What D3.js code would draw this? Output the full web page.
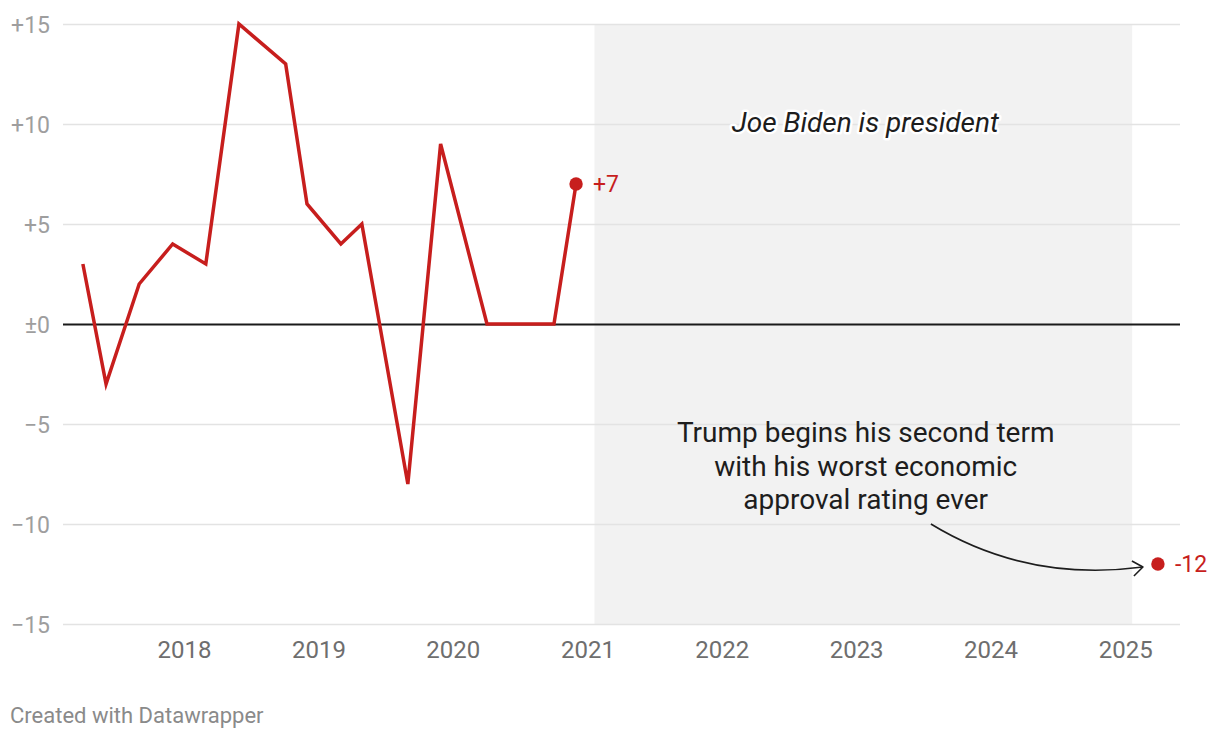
<!DOCTYPE html>
<html>
<head>
<meta charset="utf-8">
<script src="https://cdn.jsdelivr.net/npm/d3@7"></script>
<style>
  body { margin: 0; background: #fff; }
  text { font-family: Roboto, "Noto Sans", sans-serif; }
</style>
</head>
<body>
<svg id="chart"></svg>
<script>
// net economic approval, survey dates and values
const surveyDates = ["2017-04-01", "2017-06-03", "2017-09-01", "2017-12-01", "2018-03-01",
                     "2018-05-30", "2018-10-04", "2018-12-01", "2019-03-03", "2019-04-29",
                     "2019-09-01", "2019-11-29", "2020-04-03", "2020-10-02", "2020-12-01"]
const surveyValues = [3, -3, 2, 4, 3, 15, 13, 6, 4, 5, -8, 9, 0, 0, 7]

const latestDate = "2025-03-31"
const latestValue = -12

const bidenTerm = ["2021-01-20", "2025-01-20"]

const yTicks = [-15, -10, -5, 0, 5, 10, 15]
const yearTicks = [2018, 2019, 2020, 2021, 2022, 2023, 2024, 2025]

const width = 1220, height = 740
const margin = {top: 24, right: 40, bottom: 116, left: 63}

const parse = d3.utcParse("%Y-%m-%d")
const red = "#c71e1d"

const svg = d3.select("#chart")
              .attr("width", width)
              .attr("height", height)

const x = d3.scaleUtc()
            .domain([parse("2017-02-06"), parse("2025-05-30")])
            .range([margin.left, width - margin.right])

const y = d3.scaleLinear()
            .domain([-15, 15])
            .range([height - margin.bottom, margin.top])

// shaded Biden years
svg.append("rect")
   .attr("x", x(parse(bidenTerm[0])))
   .attr("width", x(parse(bidenTerm[1])) - x(parse(bidenTerm[0])))
   .attr("y", y(15))
   .attr("height", y(-15) - y(15))
   .attr("fill", "#f2f2f2")

// y grid + labels
const fmtY = v => v > 0 ? "+" + v : v < 0 ? "\u2212" + Math.abs(v) : "\u00b10"

const yAxis = svg.append("g")
   .attr("transform", `translate(${margin.left},0)`)
   .call(d3.axisLeft(y)
           .tickValues(yTicks)
           .tickSize(-(width - margin.left - margin.right))
           .tickPadding(13)
           .tickFormat(fmtY))
yAxis.select(".domain").remove()
yAxis.selectAll(".tick line")
     .attr("stroke", d => d === 0 ? "#1a1a1a" : "#e3e3e3")
     .attr("stroke-width", d => d === 0 ? 2 : 1.5)
yAxis.selectAll(".tick text")
     .attr("fill", "#9e9e9e")
     .style("font-size", "23px")
     .attr("dy", "0.36em")

// x labels
const xAxis = svg.append("g")
   .attr("transform", `translate(0,${y(-15)})`)
   .call(d3.axisBottom(x)
           .tickValues(yearTicks.map(yr => new Date(Date.UTC(yr, 0, 1))))
           .tickSize(0)
           .tickPadding(17)
           .tickFormat(d3.utcFormat("%Y")))
xAxis.select(".domain").remove()
xAxis.selectAll(".tick text")
     .attr("fill", "#6e6e6e")
     .style("font-size", "24px")

// "Joe Biden is president"
svg.append("text")
   .attr("x", (x(parse(bidenTerm[0])) + x(parse(bidenTerm[1]))) / 2 + 2)
   .attr("y", y(10) + 8)
   .attr("text-anchor", "middle")
   .style("font-size", "28px")
   .style("font-style", "italic")
   .attr("fill", "#1d1d1d")
   .attr("stroke", "#fff")
   .attr("stroke-width", 5)
   .attr("stroke-linejoin", "round")
   .attr("paint-order", "stroke")
   .text("Joe Biden is president")

// line
const points = surveyDates.map((d, i) => ({date: parse(d), value: surveyValues[i]}))

const line = d3.line()
               .x(d => x(d.date))
               .y(d => y(d.value))

svg.append("path")
   .datum(points)
   .attr("d", line)
   .attr("fill", "none")
   .attr("stroke", red)
   .attr("stroke-width", 3.5)
   .attr("stroke-linejoin", "miter")

// end dots + labels
const last = points[points.length - 1]
const latest = {date: parse(latestDate), value: latestValue}

svg.selectAll("circle.end")
   .data([last, latest])
   .join("circle")
   .attr("class", "end")
   .attr("cx", d => x(d.date))
   .attr("cy", d => y(d.value))
   .attr("r", 6.7)
   .attr("fill", red)

svg.selectAll("text.endlabel")
   .data([{d: last, t: "+" + last.value}, {d: latest, t: String(latest.value)}])
   .join("text")
   .attr("class", "endlabel")
   .attr("x", d => x(d.d.date) + 17)
   .attr("y", d => y(d.d.value) + 7.5)
   .attr("fill", red)
   .style("font-size", "23px")
   .text(d => d.t)

// annotation
const noteLines = ["Trump begins his second term", "with his worst economic", "approval rating ever"]
const noteX = x(parse("2023-01-27"))
svg.append("text")
   .attr("text-anchor", "middle")
   .attr("fill", "#1d1d1d")
   .style("font-size", "28px")
   .selectAll("tspan")
   .data(noteLines)
   .join("tspan")
   .attr("x", noteX)
   .attr("y", (d, i) => y(-5) + 18 + i * 33.7)
   .text(d => d)

// arrow, relative to the latest dot
const lx = x(latest.date), ly = y(latest.value)
const arrow = d3.path()
arrow.moveTo(lx - 227, ly - 40)
arrow.bezierCurveTo(lx - 168, ly - 4, lx - 98, ly + 14, lx - 15, ly + 3)
svg.append("path")
   .attr("d", arrow.toString())
   .attr("fill", "none")
   .attr("stroke", "#1d1d1d")
   .attr("stroke-width", 1.6)

svg.append("path")
   .attr("d", `M${lx - 26},${ly - 3} L${lx - 15},${ly + 3} L${lx - 24},${ly + 12}`)
   .attr("fill", "none")
   .attr("stroke", "#1d1d1d")
   .attr("stroke-width", 1.6)
   .attr("stroke-linejoin", "round")

// footer
svg.append("text")
   .attr("x", 10)
   .attr("y", 723)
   .attr("fill", "#8a8a8a")
   .style("font-size", "22px")
   .text("Created with Datawrapper")
</script>
</body>
</html>
